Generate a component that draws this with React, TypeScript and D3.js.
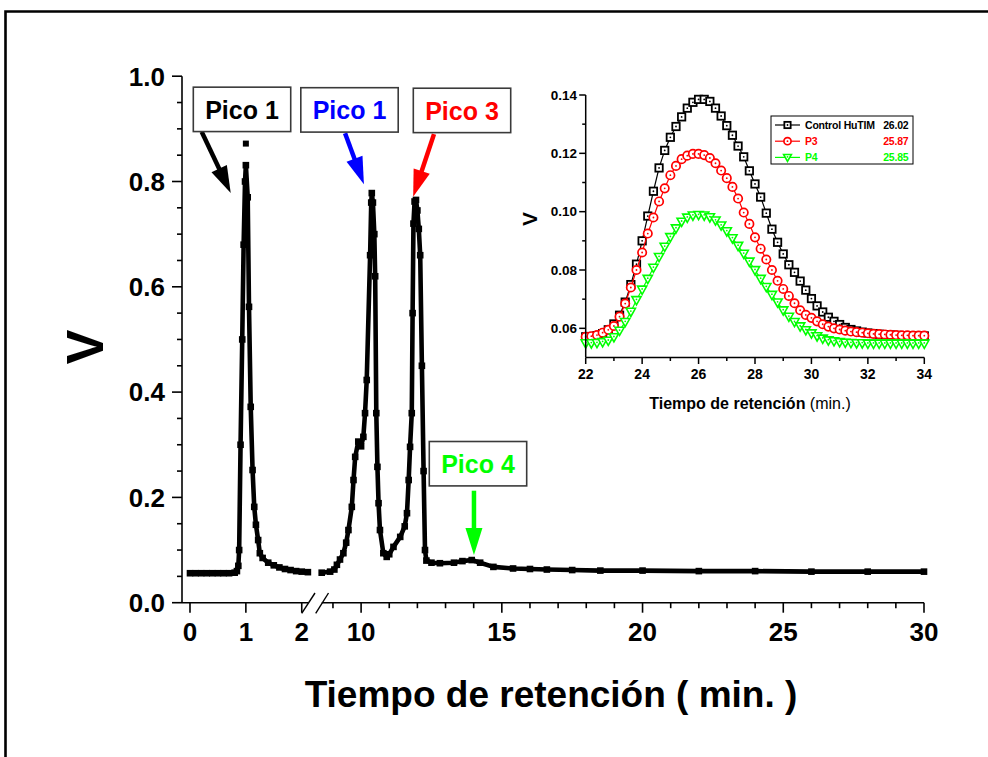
import React from 'react';
import * as d3 from 'd3';

const W = 988;
const H = 757;

// ---------- main chromatogram (time in min, signal in V) ----------
const preTime = [0, 0.1, 0.2, 0.3, 0.4, 0.5, 0.6, 0.7, 0.8, 0.84, 0.865, 0.88, 0.905, 0.935, 0.96, 0.985, 1.0, 1.033, 1.056, 1.087, 1.12, 1.15, 1.18, 1.22, 1.25, 1.3, 1.4, 1.5, 1.6, 1.7, 1.8, 1.9, 2.0, 2.11];
const preVolt = [0.056, 0.056, 0.056, 0.056, 0.056, 0.056, 0.056, 0.056, 0.057, 0.06, 0.07, 0.1, 0.3, 0.5, 0.68, 0.8, 0.831, 0.77, 0.562, 0.372, 0.252, 0.182, 0.148, 0.119, 0.094, 0.085, 0.076, 0.071, 0.067, 0.064, 0.062, 0.06, 0.059, 0.058];
const postTime = [8.6, 8.9, 9.05, 9.14, 9.25, 9.37, 9.47, 9.55, 9.67, 9.73, 9.79, 9.9, 10.0, 10.08, 10.14, 10.2, 10.32, 10.36, 10.38, 10.42, 10.47, 10.5, 10.54, 10.58, 10.62, 10.67, 10.79, 10.91, 11.0, 11.15, 11.39, 11.55, 11.63, 11.69, 11.74, 11.8, 11.83, 11.86, 11.9, 11.95, 12.0, 12.05, 12.1, 12.16, 12.22, 12.27, 12.32, 12.5, 12.8, 13.3, 13.6, 13.93, 14.23, 14.7, 15.4, 16.0, 16.6, 17.5, 18.5, 20, 22, 24, 26, 28, 30];
const postVolt = [0.057, 0.059, 0.063, 0.072, 0.082, 0.094, 0.114, 0.138, 0.182, 0.233, 0.277, 0.306, 0.297, 0.315, 0.36, 0.423, 0.66, 0.76, 0.778, 0.76, 0.7, 0.62, 0.36, 0.258, 0.189, 0.138, 0.094, 0.087, 0.092, 0.106, 0.125, 0.145, 0.17, 0.233, 0.296, 0.36, 0.55, 0.72, 0.762, 0.765, 0.745, 0.71, 0.66, 0.45, 0.25, 0.1, 0.08, 0.076, 0.075, 0.076, 0.079, 0.081, 0.076, 0.068, 0.065, 0.064, 0.063, 0.062, 0.061, 0.061, 0.06, 0.06, 0.059, 0.059, 0.059];
const strayTime = [1.0];
const strayVolt = [0.872];

const preMajorTicks = [0, 1, 2];
const postMajorTicks = [10, 15, 20, 25, 30];
const postMinorTicks = [9, 11, 12, 13, 14, 16, 17, 18, 19, 21, 22, 23, 24, 26, 27, 28, 29];
const yMajorTicks = [0, 0.2, 0.4, 0.6, 0.8, 1.0];
const yMinorTicks = [0.05, 0.1, 0.15, 0.25, 0.3, 0.35, 0.45, 0.5, 0.55, 0.65, 0.7, 0.75, 0.85, 0.9, 0.95];

// annotations
const peakLabels = ['Pico 1', 'Pico 1', 'Pico 3', 'Pico 4'];
const peakColors = ['#000000', '#0000ff', '#ff0000', '#00ff00'];

// ---------- inset ----------
const insetTime = [22, 22.2, 22.4, 22.6, 22.8, 23, 23.2, 23.4, 23.6, 23.8, 24, 24.2, 24.4, 24.6, 24.8, 25, 25.2, 25.4, 25.6, 25.8, 26, 26.2, 26.4, 26.6, 26.8, 27, 27.2, 27.4, 27.6, 27.8, 28, 28.2, 28.4, 28.6, 28.8, 29, 29.2, 29.4, 29.6, 29.8, 30, 30.2, 30.4, 30.6, 30.8, 31, 31.2, 31.4, 31.6, 31.8, 32, 32.2, 32.4, 32.6, 32.8, 33, 33.2, 33.4, 33.6, 33.8, 34];
const controlVolt = [0.0571, 0.0572, 0.0575, 0.0582, 0.0595, 0.0615, 0.0645, 0.069, 0.075, 0.082, 0.09, 0.0985, 0.107, 0.115, 0.121, 0.1255, 0.1292, 0.1325, 0.1355, 0.1375, 0.1385, 0.1385, 0.1378, 0.1355, 0.1328, 0.1295, 0.1262, 0.1225, 0.1188, 0.114, 0.1095, 0.105, 0.0995, 0.094, 0.0895, 0.0855, 0.0818, 0.0792, 0.0762, 0.0731, 0.0702, 0.0677, 0.0656, 0.0638, 0.0624, 0.0613, 0.0603, 0.0596, 0.0591, 0.0587, 0.0584, 0.0582, 0.058, 0.0578, 0.0577, 0.0576, 0.0575, 0.0575, 0.0574, 0.0574, 0.0574];
const p3Volt = [0.0571, 0.0573, 0.0577, 0.0585, 0.0595, 0.0608, 0.064, 0.0685, 0.074, 0.08, 0.086, 0.0925, 0.098, 0.1035, 0.108, 0.1125, 0.1157, 0.118, 0.1192, 0.1198, 0.1198, 0.1194, 0.1184, 0.1166, 0.1141, 0.1115, 0.1085, 0.1045, 0.0997, 0.0958, 0.0912, 0.0873, 0.0836, 0.08, 0.0763, 0.0735, 0.0711, 0.0686, 0.0662, 0.0646, 0.0636, 0.0624, 0.0614, 0.0606, 0.06, 0.0596, 0.0592, 0.0589, 0.0587, 0.0585, 0.0583, 0.0581, 0.058, 0.0579, 0.0578, 0.0577, 0.0576, 0.0576, 0.0575, 0.0575, 0.0575];
const p4Volt = [0.0549, 0.0549, 0.055, 0.0553, 0.0558, 0.057, 0.0592, 0.0622, 0.0657, 0.0697, 0.0733, 0.077, 0.0808, 0.0845, 0.088, 0.0913, 0.0943, 0.0966, 0.098, 0.0987, 0.0989, 0.0987, 0.0981, 0.097, 0.0953, 0.0933, 0.0909, 0.0883, 0.0856, 0.0829, 0.08, 0.077, 0.0742, 0.0715, 0.0689, 0.0662, 0.064, 0.0622, 0.0607, 0.0594, 0.0583, 0.0573, 0.0565, 0.0559, 0.0556, 0.0553, 0.0551, 0.055, 0.0549, 0.0549, 0.0548, 0.0548, 0.0548, 0.0548, 0.0548, 0.0548, 0.0548, 0.0548, 0.0548, 0.0548, 0.0548];
const legendNames = ['Control HuTIM', 'P3', 'P4'];
const legendValues = ['26.02', '25.87', '25.85'];
const seriesColors = ['#000000', '#ff0000', '#00ff00'];
const insetYMajor = [0.06, 0.08, 0.1, 0.12, 0.14];
const insetYMinor = [0.07, 0.09, 0.11, 0.13];
const insetXMajor = [22, 24, 26, 28, 30, 32, 34];
const insetXMinor = [23, 25, 27, 29, 31, 33];

const FONT = '"Liberation Sans", Arial, Helvetica, sans-serif';

function Marker({ kind, x, y, color, k = 1 }: { kind: number; x: number; y: number; color: string; k?: number }) {
  if (kind === 0) {
    const s = 3.7 * k;
    return (
      <g>
        <rect x={x - s} y={y - s} width={2 * s} height={2 * s} fill="#fff" stroke={color} strokeWidth={1.8} />
        <circle cx={x} cy={y} r={0.9} fill={color} />
      </g>
    );
  }
  if (kind === 1) {
    return (
      <g>
        <circle cx={x} cy={y} r={4.2 * k} fill="#fff" stroke={color} strokeWidth={1.7} />
        <circle cx={x} cy={y} r={0.9} fill={color} />
      </g>
    );
  }
  const a = 4.6 * k;
  return (
    <g>
      <path d={`M${x - a},${y - 3.4 * k} L${x + a},${y - 3.4 * k} L${x},${y + 4.8 * k} Z`} fill="#fff" stroke={color} strokeWidth={1.6} strokeLinejoin="miter" />
      <circle cx={x} cy={y - 0.6} r={0.9} fill={color} />
    </g>
  );
}

function Arrow({ x1, y1, x2, y2, color }: { x1: number; y1: number; x2: number; y2: number; color: string }) {
  const dx = x2 - x1;
  const dy = y2 - y1;
  const len = Math.sqrt(dx * dx + dy * dy);
  const ux = dx / len;
  const uy = dy / len;
  const headL = 27;
  const headW = 8.5;
  const bx = x2 - ux * headL;
  const by = y2 - uy * headL;
  const px = -uy;
  const py = ux;
  return (
    <g>
      <line x1={x1} y1={y1} x2={bx + ux * 2} y2={by + uy * 2} stroke={color} strokeWidth={4.5} />
      <path d={`M${x2},${y2} L${bx + px * headW},${by + py * headW} L${bx - px * headW},${by - py * headW} Z`} fill={color} />
    </g>
  );
}

export default function App() {
  // main scales
  const y = d3.scaleLinear().domain([0, 1]).range([602.7, 76.2]);
  const xPre = d3.scaleLinear().domain([-0.143, 2.112]).range([182, 308]);
  const xPost = d3.scaleLinear().domain([8.6, 30]).range([321.7, 924]);

  const line = d3.line<[number, number]>().curve(d3.curveLinear);
  const prePts: [number, number][] = preTime.map((t, i) => [xPre(t), y(preVolt[i])]);
  const postPts: [number, number][] = postTime.map((t, i) => [xPost(t), y(postVolt[i])]);

  // inset scales
  const ix = d3.scaleLinear().domain([22, 34]).range([585.7, 924.3]);
  const iy = d3.scaleLinear().domain([0.05, 0.14]).range([357.5, 95]);
  const insetSeries = [controlVolt, p3Volt, p4Volt];

  // annotation geometry (data coordinates on the main axes)
  const boxes = [
    { cx: xPre(0.931), cy: y(0.937) },
    { cx: xPost(9.588), cy: y(0.936) },
    { cx: xPost(13.585), cy: y(0.935) },
    { cx: xPost(14.153), cy: y(0.264) },
  ];
  const arrows = [
    { x1: xPre(0.209), y1: y(0.8946), x2: xPre(0.729), y2: y(0.778) },
    { x1: xPost(9.43), y1: y(0.8915), x2: xPost(10.1), y2: y(0.795) },
    { x1: xPost(12.59), y1: y(0.89), x2: xPost(11.85), y2: y(0.771) },
    { x1: xPost(14.01), y1: y(0.2127), x2: xPost(14.01), y2: y(0.0904) },
  ];

  const axisY = y(0);

  return (
    <div style={{ position: 'absolute', left: 0, top: 0 }}>
      <svg width={W} height={H} viewBox={`0 0 ${W} ${H}`} style={{ display: 'block', background: '#fff', fontFamily: FONT }}>
        {/* outer frame */}
        <path d="M5.5,760 L5.5,11.5 L995,11.5" fill="none" stroke="#000" strokeWidth={2.6} />

        {/* ---------- main axes ---------- */}
        <g stroke="#000" strokeWidth={1.6}>
          <line x1={xPre.range()[0]} y1={y(1)} x2={xPre.range()[0]} y2={axisY} />
          <line x1={xPre.range()[0]} y1={axisY} x2={xPre.range()[1]} y2={axisY} />
          <line x1={xPost.range()[0]} y1={axisY} x2={xPost.range()[1]} y2={axisY} />
          {yMajorTicks.map((t) => (
            <line key={'ym' + t} x1={182 - 10} x2={182} y1={y(t)} y2={y(t)} />
          ))}
          {yMinorTicks.map((t) => (
            <line key={'yn' + t} x1={182 - 5} x2={182} y1={y(t)} y2={y(t)} />
          ))}
          {preMajorTicks.map((t) => (
            <line key={'xp' + t} x1={xPre(t)} x2={xPre(t)} y1={axisY} y2={axisY + 10} />
          ))}
          {postMajorTicks.map((t) => (
            <line key={'xq' + t} x1={xPost(t)} x2={xPost(t)} y1={axisY} y2={axisY + 10} />
          ))}
          {postMinorTicks.map((t) => (
            <line key={'xr' + t} x1={xPost(t)} x2={xPost(t)} y1={axisY} y2={axisY + 5.5} />
          ))}
          {/* axis break marks */}
          <line x1={301.7} y1={613.3} x2={315} y2={593} strokeWidth={1.4} />
          <line x1={315.7} y1={613.3} x2={328.5} y2={593} strokeWidth={1.4} />
        </g>

        {/* y tick labels */}
        <g fontSize={26} fontWeight="bold" textAnchor="end" fill="#000">
          {yMajorTicks.map((t) => (
            <text key={'yl' + t} x={165} y={y(t) + 9.3}>
              {t.toFixed(1)}
            </text>
          ))}
        </g>
        {/* x tick labels */}
        <g fontSize={26} fontWeight="bold" textAnchor="middle" fill="#000">
          {preMajorTicks.map((t) => (
            <text key={'xl' + t} x={xPre(t)} y={640.5}>
              {t}
            </text>
          ))}
          {postMajorTicks.map((t) => (
            <text key={'xk' + t} x={xPost(t)} y={640.5}>
              {t}
            </text>
          ))}
        </g>

        {/* axis titles */}
        <text x={103} y={347} transform="rotate(-90 103 347)" textAnchor="middle" fontSize={52} fontWeight="bold">
          V
        </text>
        <text x={551} y={707} textAnchor="middle" fontSize={37} fontWeight="bold">
          Tiempo de retención ( min. )
        </text>

        {/* ---------- main curve ---------- */}
        <path d={line(prePts) || ''} fill="none" stroke="#000" strokeWidth={4.6} strokeLinejoin="round" />
        <path d={line(postPts) || ''} fill="none" stroke="#000" strokeWidth={4.6} strokeLinejoin="round" />
        {prePts.map((p, i) => (
          <rect key={'pm' + i} x={p[0] - 3.3} y={p[1] - 3.3} width={6.6} height={6.6} fill="#000" />
        ))}
        {postPts.map((p, i) => (
          <rect key={'qm' + i} x={p[0] - 3.3} y={p[1] - 3.3} width={6.6} height={6.6} fill="#000" />
        ))}
        {strayTime.map((t, i) => (
          <rect key={'st' + i} x={xPre(t) - 3} y={y(strayVolt[i]) - 3} width={6} height={6} fill="#000" />
        ))}

        {/* ---------- annotations ---------- */}
        {peakLabels.map((lab, i) => (
          <g key={'ann' + i}>
            <Arrow x1={arrows[i].x1} y1={arrows[i].y1} x2={arrows[i].x2} y2={arrows[i].y2} color={peakColors[i]} />
            <rect x={boxes[i].cx - 48.7} y={boxes[i].cy - 22.2} width={97.4} height={44.4} fill="#fff" stroke="#3a3a3a" strokeWidth={1.6} />
            <text x={boxes[i].cx} y={boxes[i].cy + 9.2} textAnchor="middle" fontSize={25} fontWeight="bold" fill={peakColors[i]}>
              {lab}
            </text>
          </g>
        ))}

        {/* ---------- inset ---------- */}
        <g>
          {insetSeries.map((vals, s) => {
            const pts: [number, number][] = insetTime.map((t, i) => [ix(t), iy(vals[i])]);
            return (
              <g key={'is' + s}>
                <path d={line(pts) || ''} fill="none" stroke={seriesColors[s]} strokeWidth={1.2} />
                {pts.map((p, i) => (
                  <Marker key={i} kind={s} x={p[0]} y={p[1]} color={seriesColors[s]} />
                ))}
              </g>
            );
          })}
          <g stroke="#000" strokeWidth={1.5}>
            <line x1={ix(22)} x2={ix(22)} y1={iy(0.14)} y2={iy(0.05)} />
            <line x1={ix(22)} x2={ix(34)} y1={iy(0.05)} y2={iy(0.05)} />
            {insetYMajor.map((t) => (
              <line key={'iym' + t} x1={ix(22) - 6.5} x2={ix(22)} y1={iy(t)} y2={iy(t)} />
            ))}
            {insetYMinor.map((t) => (
              <line key={'iyn' + t} x1={ix(22) - 3.5} x2={ix(22)} y1={iy(t)} y2={iy(t)} />
            ))}
            {insetXMajor.map((t) => (
              <line key={'ixm' + t} x1={ix(t)} x2={ix(t)} y1={iy(0.05)} y2={iy(0.05) + 6.5} />
            ))}
            {insetXMinor.map((t) => (
              <line key={'ixn' + t} x1={ix(t)} x2={ix(t)} y1={iy(0.05)} y2={iy(0.05) + 3.5} />
            ))}
          </g>
          <g fontSize={13.5} fontWeight="bold" textAnchor="end">
            {insetYMajor.map((t) => (
              <text key={'iyl' + t} x={577} y={iy(t) + 4.8}>
                {t.toFixed(2)}
              </text>
            ))}
          </g>
          <g fontSize={14} fontWeight="bold" textAnchor="middle">
            {insetXMajor.map((t) => (
              <text key={'ixl' + t} x={ix(t)} y={378.5}>
                {t}
              </text>
            ))}
          </g>
          <text x={536.7} y={219} transform="rotate(-90 536.7 219)" textAnchor="middle" fontSize={21} fontWeight="bold">
            V
          </text>
          <text x={750} y={408.5} textAnchor="middle" fontSize={16}>
            <tspan fontWeight="bold">Tiempo de retención</tspan>
            <tspan> (min.)</tspan>
          </text>

          {/* legend */}
          <rect x={771} y={116} width={142} height={48} fill="#fff" stroke="#000" strokeWidth={1} />
          {legendNames.map((name, i) => {
            const cy = 125 + i * 16.2;
            return (
              <g key={'lg' + i}>
                <line x1={775} x2={800} y1={cy} y2={cy} stroke={seriesColors[i]} strokeWidth={1.2} />
                <Marker kind={i} x={787.5} y={cy} color={seriesColors[i]} k={0.85} />
                <text x={805} y={cy + 4} fontSize={10.5} fontWeight="bold" fill={seriesColors[i]} letterSpacing={-0.2}>
                  {name}
                </text>
                <text x={908.5} y={cy + 4} fontSize={10.5} fontWeight="bold" textAnchor="end" fill={seriesColors[i]} letterSpacing={-0.2}>
                  {legendValues[i]}
                </text>
              </g>
            );
          })}
        </g>
      </svg>
    </div>
  );
}
